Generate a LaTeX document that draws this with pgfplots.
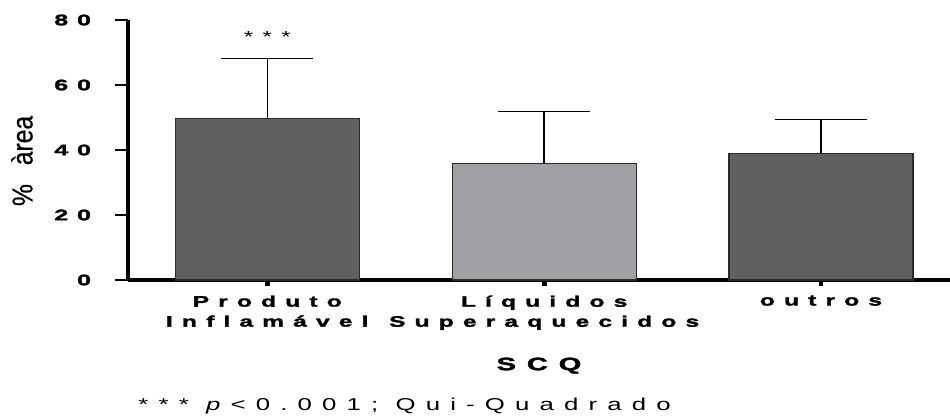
\documentclass[border=0pt]{standalone}
\usepackage{pgfplots}
\pgfplotsset{compat=1.18}
\usepackage{fontspec}
\setmainfont{Liberation Sans}
% wide, tracked faces for ticks and labels; narrow face for the y label
\newfontfamily\widebold[FakeStretch=1.62,FakeBold=2,LetterSpace=60]{Liberation Sans Bold}
\newfontfamily\widedigits[FakeStretch=1.65,FakeBold=2]{Liberation Sans Bold}
\newfontfamily\widefont[FakeStretch=1.5,LetterSpace=59]{Liberation Sans}
\newfontfamily\narrowfont[FakeStretch=0.85,FakeBold=0.6]{Liberation Sans}
\newcommand{\dg}{\kern4.4pt}

\definecolor{darkbar}{HTML}{606060}
\definecolor{lightbar}{HTML}{A1A0A4}
\definecolor{edge}{HTML}{2A2A2A}

\begin{document}
\begin{tikzpicture}
\useasboundingbox (-64pt,-68pt) rectangle (411pt,140pt);
\begin{axis}[
  at={(0,0)}, anchor=south west,
  scale only axis, width=411pt, height=130pt,
  xmin=-0.503, xmax=2.466, ymin=0, ymax=80,
  axis x line*=bottom, axis y line*=left,
  axis line style={-},
  x axis line style={line width=1.6pt},
  y axis line style={line width=2.4pt},
  ytick={0,20,40,60,80},
  yticklabels={0,2\dg0,4\dg0,6\dg0,8\dg0},
  xtick={0,1,2},
  xticklabels={{Produto\\Inflamável},{Líquidos\\Superaquecidos},outros},
  tick align=outside,
  ytick style={line width=1.4pt, black, /pgfplots/major tick length=6.5pt},
  xtick style={line width=2.4pt, black, /pgfplots/major tick length=3pt},
  xticklabel style={align=center, font=\widebold\fontsize{7.6}{10}\selectfont},
  yticklabel style={font=\widedigits\fontsize{7.6}{8}\selectfont, xshift=-10.7pt},
  xlabel={SCQ},
  xlabel style={font=\widebold\fontsize{9}{10}\selectfont, yshift=-7pt},
  ylabel={\%\hspace{6pt} àrea},
  ylabel style={font=\narrowfont\fontsize{14.5}{16}\selectfont,
    at={(axis description cs:-0.129,0.458)}, anchor=center},
  ybar, bar width=92pt, bar shift=0pt,
  error bars/y dir=plus, error bars/y explicit,
  error bars/error bar style={line width=0.7pt, black},
  error bars/error mark options={rotate=90, line width=0.7pt, black, mark size=23pt},
  clip=false,
]
\addplot[fill=darkbar, draw=edge, line width=0.6pt]
  coordinates {(0,49.8) +- (0,18.4)};
\addplot[fill=lightbar, draw=edge, line width=0.6pt]
  coordinates {(1,35.9) +- (0,16.0)};
\addplot[fill=darkbar, draw=edge, line width=0.6pt]
  coordinates {(2,39.0) +- (0,10.3)};
\node[anchor=base, font=\widefont\fontsize{8}{9}\selectfont]
  at (axis cs:0,73.2) {***};
\end{axis}
\node[anchor=base west, inner sep=0pt, font=\widefont\fontsize{8.6}{10}\selectfont]
  at (5pt,-65.5pt) {*** \textit{p}<0.001; Qui-Quadrado};
\end{tikzpicture}
\end{document}
